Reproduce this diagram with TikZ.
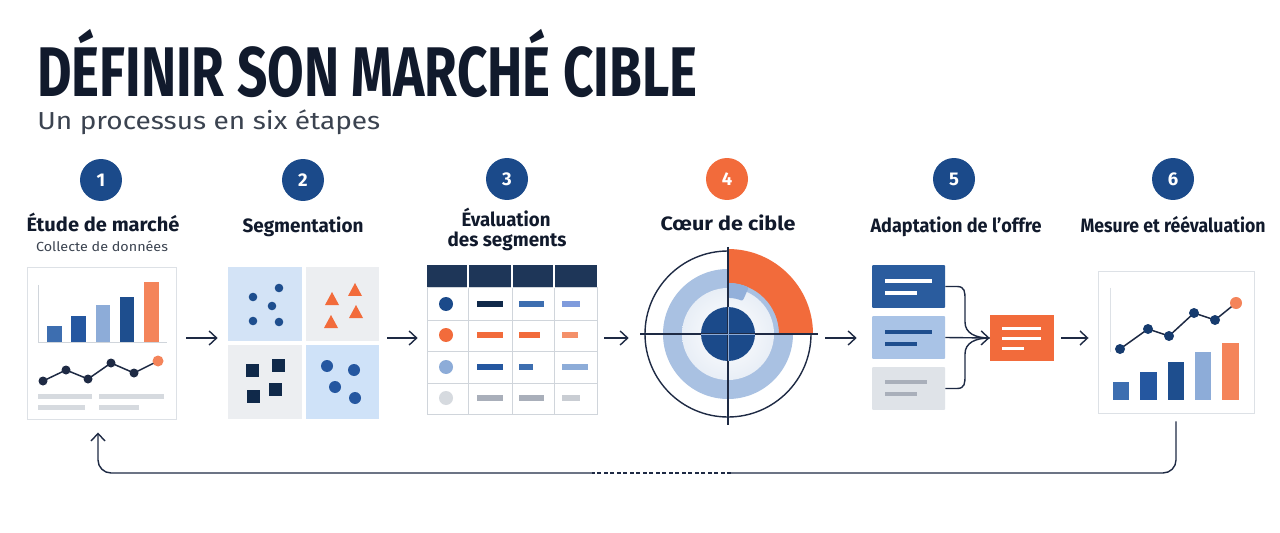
\documentclass[tikz,border=0pt]{standalone}
\usepackage{fontspec}
\setmainfont{Fira Sans}
\usetikzlibrary{arrows.meta,calc}
\definecolor{titleC}{HTML}{111A2C}
\definecolor{subC}{HTML}{3B4350}
\definecolor{lineC}{HTML}{1E2A44}
\definecolor{stepblue}{HTML}{1B4A8A}
\definecolor{orangeC}{HTML}{F26B3B}
\definecolor{orangeL}{HTML}{F4845A}
\definecolor{orangeP}{HTML}{F4906A}
\definecolor{blueA}{HTML}{3D6EB0}
\definecolor{blueB}{HTML}{2557A0}
\definecolor{blueL}{HTML}{8DACD8}
\definecolor{blueD}{HTML}{1E4E8E}
\definecolor{grayL}{HTML}{D6DADF}
\definecolor{borderC}{HTML}{DDE1E6}
\definecolor{lbBg}{HTML}{D3E3F6}
\definecolor{lbBg2}{HTML}{CFE2F8}
\definecolor{lgBg}{HTML}{ECEEF1}
\definecolor{navySq}{HTML}{10294A}
\definecolor{tblHead}{HTML}{1E3658}
\definecolor{tblBorder}{HTML}{D0D5DB}
\definecolor{ringC}{HTML}{A9C1E2}
\definecolor{notchC}{HTML}{93B0DA}
\definecolor{innerC}{HTML}{E8EEF6}
\definecolor{cardA}{HTML}{2A5C9E}
\definecolor{cardB}{HTML}{A9C3E6}
\definecolor{cardC}{HTML}{DFE3E8}
\definecolor{barGray}{HTML}{A9AFBA}
\definecolor{barGrayL}{HTML}{C9CDD3}
\newcommand\fitx[2]{\resizebox{#1}{\height}{#2}}
\begin{document}
\begin{tikzpicture}[x=0.02cm,y=0.02cm,
  conn/.style={draw=lineC,line width=0.028cm},
  arr/.style={conn,-{Straight Barb[length=0.15cm,width=0.28cm]}},
  stepc/.style={circle,fill=stepblue,minimum size=0.84cm,inner sep=0,text=white,
    font=\fontsize{10.5}{10.5}\selectfont\bfseries},
  lbl/.style={anchor=base,inner sep=0,text=titleC,font=\fontsize{11}{11}\selectfont\bfseries},
  panel/.style={draw=borderC,line width=0.02cm,fill=white,inner sep=0},
  ghost/.style={inner sep=0},
  card/.style={inner sep=0,minimum width=1.46cm,minimum height=0.86cm,rounded corners=0.02cm}
]
\useasboundingbox (0,0) rectangle (1280,-533);
\fill[white] (0,0) rectangle (1280,-533);

% title
\node[anchor=base west,inner sep=0,text=titleC] (title) at (37,-97)
  {\fitx{13.2cm}{\fontsize{40}{40}\selectfont\bfseries DÉFINIR SON MARCHÉ CIBLE}};
\node[anchor=base west,inner sep=0,text=subC] (sub) at (37,-130)
  {\fitx{6.86cm}{\fontsize{14}{14}\selectfont Un processus en six étapes}};

% step numbers
\node[stepc] (n1) at (101,-180) {1};
\node[stepc] (n2) at (303,-180) {2};
\node[stepc] (n3) at (507,-179) {3};
\node[stepc,fill=orangeC] (n4) at (727,-179) {4};
\node[stepc] (n5) at (954,-179) {5};
\node[stepc] (n6) at (1173,-179) {6};

% labels
\node[lbl] (l1) at (103,-232) {\fitx{3.06cm}{Étude de marché}};
\node[lbl,font=\fontsize{7.5}{7.5}\selectfont,text=subC] (l1b) at (102,-252) {\fitx{2.64cm}{Collecte de données}};
\node[lbl] (l2) at (303,-233) {\fitx{2.42cm}{Segmentation}};
\node[lbl] (l3) at (506,-227) {\fitx{1.78cm}{Évaluation}};
\node[lbl] (l3b) at (507,-247) {\fitx{2.38cm}{des segments}};
\node[lbl] (l4) at (728,-231) {\fitx{2.7cm}{Cœur de cible}};
\node[lbl] (l5) at (956,-233) {\fitx{3.42cm}{Adaptation de l’offre}};
\node[lbl] (l6) at (1173,-233) {\fitx{3.7cm}{Mesure et réévaluation}};

% ---------- panel 1
\node[panel,minimum width=3cm,minimum height=3.06cm] (p1) at (102,-343.5) {};
\draw[tblBorder,line width=0.02cm] (38,-285) -- (38,-342) -- (167,-342);
\fill[blueA] (47,-342) rectangle (62,-326);
\fill[blueB] (71,-342) rectangle (86,-316);
\fill[blueL] (96,-342) rectangle (110,-305);
\fill[blueD] (120,-342) rectangle (134,-297);
\fill[orangeL] (144,-342) rectangle (159,-282);
\draw[lineC,line width=0.03cm] (43,-381) -- (66,-370) -- (88,-379) -- (111,-363) -- (134,-373) -- (158,-361);
\foreach \x/\y in {43/381,66/370,88/379,111/363,134/373}
  \fill[lineC] (\x,-\y) circle[radius=4.5];
\fill[orangeL] (158,-361) circle[radius=5.5];
\fill[grayL] (38,-393.5) rectangle (92,-398.5);
\fill[grayL] (99,-393.5) rectangle (164,-398.5);
\fill[grayL] (38,-404.5) rectangle (85,-409.5);
\fill[grayL] (99,-404.5) rectangle (139,-409.5);

% ---------- panel 2
\node[ghost,minimum width=3.02cm,minimum height=3.04cm] (p2) at (303.5,-343) {};
\fill[lbBg] (228,-267) rectangle (302,-341);
\fill[lgBg] (306,-267) rectangle (379,-341);
\fill[lgBg] (228,-345) rectangle (302,-419);
\fill[lbBg2] (306,-345) rectangle (379,-419);
\foreach \x/\y in {253/297,279/288,272/306,253/321,279/322}
  \fill[blueD] (\x,-\y) circle[radius=4.3];
\foreach \x/\y in {332/299,355/290,356/312,331/322}
  \fill[orangeC] (\x-7,-\y-6) -- (\x+7,-\y-6) -- (\x,-\y+7) -- cycle;
\foreach \x/\y in {252/370,278/365,253/396,275/389}
  \fill[navySq] (\x-6.5,-\y-6.5) rectangle (\x+6.5,-\y+6.5);
\foreach \x/\y in {327/366,354/370,335/387,355/398}
  \fill[blueB] (\x,-\y) circle[radius=6];

% ---------- panel 3 (table)
\node[ghost,minimum width=3.4cm,minimum height=2.98cm] (p3) at (512,-339.5) {};
\fill[white] (427,-288) rectangle (597,-414);
\fill[tblHead] (427,-265) rectangle (597,-288);
\draw[tblBorder,line width=0.02cm] (427,-288) rectangle (597,-414);
\foreach \y in {320,351,383} \draw[tblBorder,line width=0.02cm] (427,-\y) -- (597,-\y);
\foreach \x in {468,512,554} {
  \draw[tblBorder,line width=0.02cm] (\x,-288) -- (\x,-414);
  \draw[white,line width=0.03cm] (\x,-265) -- (\x,-288);
}
\def\rowbars#1#2#3#4#5#6#7{%
  \fill[#2] (446,-#1) circle[radius=7];
  \fill[#3] (477,-#1-3) rectangle (503,-#1+3);
  \fill[#4] (519,-#1-3) rectangle (#5,-#1+3);
  \fill[#6] (562,-#1-3) rectangle (#7,-#1+3);}
\rowbars{304}{stepblue}{navySq}{blueA}{544}{blueL!90!blue}{580}
\rowbars{335}{orangeC}{orangeC}{orangeC}{540}{orangeP}{578}
\rowbars{367}{blueL}{blueB}{blueA}{533}{blueL}{588}
\rowbars{398}{grayL}{barGray}{barGray}{544}{barGrayL}{580}

% ---------- panel 4 (target)
\node[ghost,circle,minimum size=3.56cm] (p4) at (728,-334) {};
\draw[lineC,line width=0.028cm,fill=white] (728,-334) circle[radius=83];
\fill[ringC] (728,-334) circle[radius=65];
\shade[inner color=white,outer color=innerC] (728,-334) circle[radius=46];
\fill[orangeC] (779,-334) -- (813,-334) arc[start angle=0,end angle=90,radius=85]
  -- (728,-283) arc[start angle=90,end angle=0,radius=51] -- cycle;
\fill[notchC,rounded corners=0.04cm] (728,-283) arc[start angle=90,end angle=66,radius=51]
  -- ($(728,-334)+(66:36)$) arc[start angle=66,end angle=90,radius=36] -- cycle;
\fill[stepblue] (728,-334) circle[radius=27];
\draw[lineC,line width=0.028cm] (640,-334) -- (818,-334);
\draw[lineC,line width=0.028cm] (728,-247) -- (728,-425);
\draw[blueL,line width=0.015cm] (701,-334) -- (755,-334) (728,-307) -- (728,-361);

% ---------- panel 5 (offer)
\node[ghost,minimum width=3.64cm,minimum height=2.9cm] (p5) at (963,-337.5) {};
\node[card,fill=cardA] (c1) at (908.5,-286.5) {};
\node[card,fill=cardB] (c2) at (908.5,-337.5) {};
\node[card,fill=cardC] (c3) at (908.5,-388.5) {};
\fill[white] (885,-279) rectangle (932,-283);
\fill[white] (885,-291) rectangle (917,-295);
\fill[blueD] (885,-330) rectangle (932,-334);
\fill[blueD] (885,-342) rectangle (917,-346);
\fill[barGray] (885,-380) rectangle (927,-384);
\fill[barGray] (885,-392) rectangle (917,-396);
\node[inner sep=0,minimum width=1.28cm,minimum height=0.92cm,fill=orangeC] (o) at (1022,-338) {};
\fill[white] (1002,-326.5) rectangle (1041,-329.5);
\fill[white] (1002,-336.5) rectangle (1041,-339.5);
\fill[white] (1002,-346.5) rectangle (1024,-349.5);
\draw[conn] (c1.east) -- (957,-286.5) .. controls (965,-286.5) and (965,-292) .. (965,-300)
  -- (965,-322) .. controls (965,-333) and (975,-338) .. (o.west);
\draw[conn] (c3.east) -- (957,-388.5) .. controls (965,-388.5) and (965,-383) .. (965,-375)
  -- (965,-354) .. controls (965,-343) and (975,-338) .. (o.west);
\draw[arr] (c2.east) -- (o.west);

% ---------- panel 6
\node[panel,minimum width=3.12cm,minimum height=2.86cm] (p6) at (1176,-342.5) {};
\draw[borderC,line width=0.015cm] (1110,-288) -- (1110,-352);
\fill[blueA] (1113,-400) rectangle (1129,-382);
\fill[blueB] (1140,-400) rectangle (1157,-372);
\fill[blueD] (1168,-400) rectangle (1184,-362);
\fill[blueL] (1195,-400) rectangle (1211,-352);
\fill[orangeL] (1222,-400) rectangle (1239,-343);
\draw[lineC,line width=0.03cm] (1120,-349) -- (1148,-329) -- (1169,-336) -- (1194,-313) -- (1215,-320) -- (1236,-303);
\foreach \x/\y in {1120/349,1148/329,1169/336,1194/313,1215/320}
  \fill[stepblue!80!black] (\x,-\y) circle[radius=5];
\fill[orangeL] (1236,-303) circle[radius=6];

% ---------- arrows between panels
\coordinate (m) at (0,-338);
\draw[arr,shorten <=0.18cm,shorten >=0.2cm] (p1.east |- m) -- (p2.west |- m);
\draw[arr,shorten <=0.16cm,shorten >=0.18cm] (p2.east |- m) -- (p3.west |- m);
\draw[arr,shorten <=0.14cm,shorten >=0.2cm] (p3.east |- m) -- (p4.west |- m);
\draw[arr,shorten <=0.16cm,shorten >=0.3cm] (p4.east |- m) -- (p5.west |- m);
\draw[arr,shorten <=0.14cm,shorten >=0.18cm] (p5.east |- m) -- (p6.west |- m);

% ---------- feedback loop
\coordinate (dR) at (731,-473);
\coordinate (dL) at (592,-473);
\draw[conn,rounded corners=0.26cm,shorten <=0.14cm] (p6.south) |- (dR);
\draw[conn,dash pattern=on 0.08cm off 0.05cm] (dR) -- (dL);
\draw[arr,rounded corners=0.26cm,shorten >=0.24cm] (dL) -| ([xshift=-0.08cm]p1.south);
\end{tikzpicture}
\end{document}
